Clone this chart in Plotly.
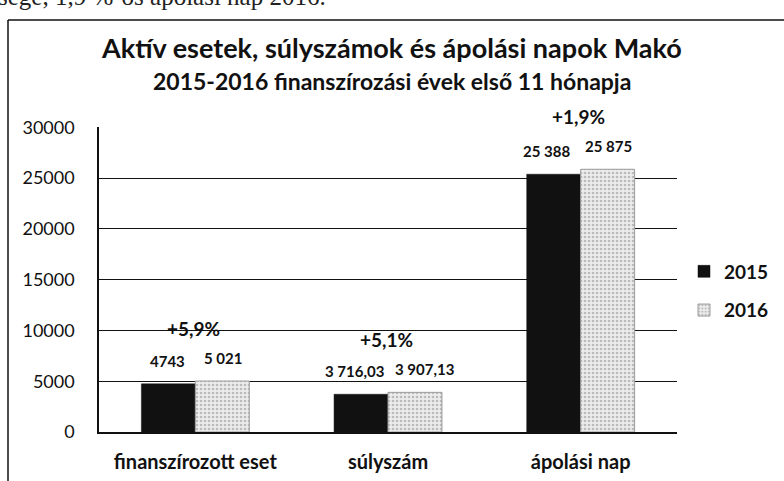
import plotly.graph_objects as go

categories = ["finanszírozott eset", "súlyszám", "ápolási nap"]
values_2015 = [4743, 3716.03, 25388]
values_2016 = [5021, 3907.13, 25875]
labels_2015 = ["4743", "3 716,03", "25 388"]
labels_2016 = ["5 021", "3 907,13", "25 875"]
changes = ["+5,9%", "+5,1%", "+1,9%"]
y_ticks = [0, 5000, 10000, 15000, 20000, 25000, 30000]
y_ticktext = ["0", "5000", "10000", "15000", "20000", "25000", "30000"]

W, H = 784, 481
ML, MR, MT, MB = 99, 107, 127, 49
PW, PH = W - ML - MR, H - MT - MB
FONT = "Lato"

def px_x(px):
    return (px - ML) / PW

def px_y(py):
    return (H - MB - py) / PH

fig = go.Figure()
fig.add_trace(go.Bar(
    x=categories, y=values_2015, name="<b>2015</b>",
    marker=dict(color="#111111", line=dict(color="#111111", width=0.5)),
    legendgroup="a",
))
fig.add_trace(go.Bar(
    x=categories, y=values_2016, name="<b>2016</b>",
    marker=dict(color="#e4e4e4",
                line=dict(color="#9a9a9a", width=1),
                pattern=dict(shape=".", fgcolor="#8a8a8a", bgcolor="#ececec",
                             size=4, solidity=0.35)),
    legendgroup="b",
))

annotations = []
for i, c in enumerate(categories):
    annotations.append(dict(x=c, y=values_2015[i], xref="x", yref="y",
                            xanchor="center", yanchor="middle",
                            text="<b>" + labels_2015[i] + "</b>", showarrow=False,
                            xshift=-28 - (6 if i > 0 else 0), yshift=23,
                            font=dict(family=FONT, size=15, color="#111")))
    annotations.append(dict(x=c, y=values_2016[i], xref="x", yref="y",
                            xanchor="center", yanchor="middle",
                            text="<b>" + labels_2016[i] + "</b>", showarrow=False,
                            xshift=28 + (8 if i == 1 else 0), yshift=23,
                            font=dict(family=FONT, size=15, color="#111")))
    annotations.append(dict(x=c, y=max(values_2015[i], values_2016[i]), xref="x", yref="y",
                            xanchor="center", yanchor="middle",
                            text="<b>" + changes[i] + "</b>", showarrow=False,
                            xshift=-2, yshift=53,
                            font=dict(family=FONT, size=19, color="#111")))

annotations.append(dict(x=px_x(391), y=px_y(48), xref="paper", yref="paper",
                        xanchor="center", yanchor="middle",
                        text="<b>Aktív esetek, súlyszámok és ápolási napok Makó</b>",
                        showarrow=False, font=dict(family=FONT, size=27, color="#111")))
annotations.append(dict(x=px_x(392), y=px_y(81), xref="paper", yref="paper",
                        xanchor="center", yanchor="middle",
                        text="<b>2015-2016 finanszírozási évek első 11 hónapja</b>",
                        showarrow=False, font=dict(family=FONT, size=23, color="#111")))
annotations.append(dict(x=px_x(-4), y=px_y(12), xref="paper", yref="paper",
                        xanchor="left", yanchor="bottom",
                        text="sége, 1,9 %-os ápolási nap 2016.",
                        showarrow=False, font=dict(family="Liberation Serif", size=25, color="#222")))

shapes = [
    dict(type="line", xref="paper", yref="paper",
         x0=px_x(8), x1=px_x(8), y0=px_y(20), y1=px_y(H + 2),
         line=dict(color="#111", width=1.5)),
    dict(type="line", xref="paper", yref="paper",
         x0=px_x(8), x1=px_x(W + 2), y0=px_y(20), y1=px_y(20),
         line=dict(color="#111", width=1.5)),
]

fig.update_layout(
    width=W, height=H,
    margin=dict(l=ML, r=MR, t=MT, b=MB, autoexpand=False),
    paper_bgcolor="white", plot_bgcolor="white",
    barmode="group", bargap=0.44, bargroupgap=0.0,
    font=dict(family=FONT, color="#111"),
    showlegend=True,
    legend=dict(x=px_x(684), y=px_y(291), xanchor="left", yanchor="middle",
                font=dict(family=FONT, size=19, color="#111"),
                tracegroupgap=11, traceorder="grouped",
                itemwidth=30, bgcolor="rgba(0,0,0,0)"),
    annotations=annotations,
    shapes=shapes,
)
fig.update_xaxes(showline=True, linecolor="#111", linewidth=1.5,
                 tickfont=dict(family=FONT, size=20, color="#111"),
                 ticks="", ticklabelstandoff=11,
                 tickmode="array", tickvals=categories,
                 ticktext=["<b>" + c + "</b>" for c in categories])
fig.update_yaxes(range=[0, y_ticks[-1] + 40], tickmode="array",
                 tickvals=y_ticks, ticktext=y_ticktext,
                 showgrid=True, gridcolor="#111", gridwidth=1,
                 showline=True, linecolor="#111", linewidth=1.5,
                 zeroline=False, ticks="", ticklabelstandoff=19,
                 tickfont=dict(family=FONT, size=18, color="#111"))

fig.write_html(
    "out.html",
    config={"displayModeBar": False},
    post_script="document.body.style.margin='0';document.body.style.overflow='hidden';",
)
